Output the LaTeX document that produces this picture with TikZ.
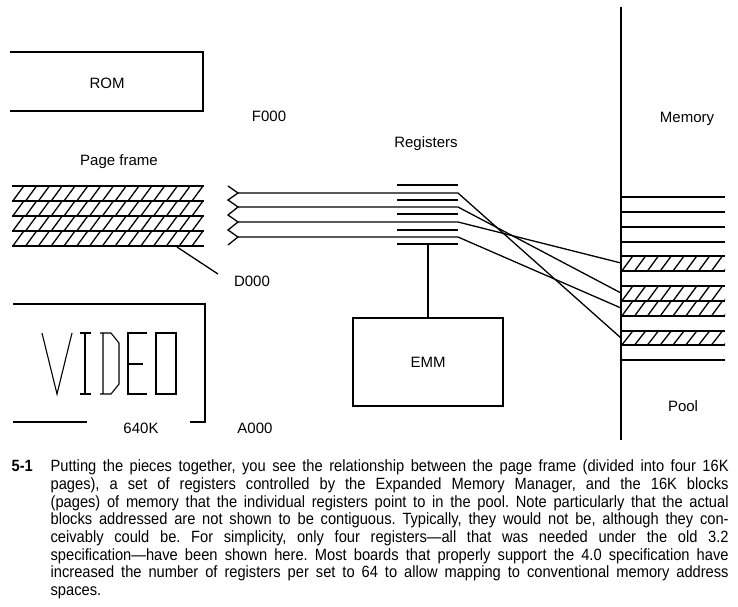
\documentclass[tikz,border=0pt]{standalone}
\usepackage{fontspec}
\setmainfont{Liberation Sans}
\newfontfamily\capfont[FakeStretch=0.9]{Liberation Sans}
\frenchspacing
\newcommand\hatchband[4]{%
  \begin{scope}
    \clip (#1,#3) rectangle (#2,#4);
    \foreach \k in {0,...,18} \draw[hatch] ({#1-12+12.8*\k},#4) -- ({#1-1+12.8*\k},#3);
  \end{scope}}
\newcommand\capline[1]{\makebox[678pt][s]{#1}}
\begin{document}
\begin{tikzpicture}[x=1pt,y=-1pt,line width=1.3pt,
  lbl/.style={font=\fontsize{15}{18}\selectfont,inner sep=0pt},
  hatch/.style={line width=1.3pt},
  vid/.style={line width=1.1pt},
  capl/.style={anchor=base west,inner sep=0pt,font=\capfont\fontsize{16.3}{17.7}\selectfont}]
\useasboundingbox[fill=white] (0,0) rectangle (738,606);

% ROM
\draw (10,52) -- (203,52) -- (203,111) -- (10,111);
\node[lbl] (rom) at (107,83) {ROM};
\node[lbl] (f000) at (269,116) {F000};
\node[lbl] (pf) at (119,162) {Page frame};

% page frame
\foreach \a/\b in {186/201,201/216,216/231,231/246} \hatchband{12}{204}{\a}{\b};
\foreach \y in {186,201,216,231,246} \draw (12,\y) -- (204,\y);
\coordinate (dtail) at (177,247);
\node[lbl] (d000) at (252,281) {D000};
\coordinate (dhead) at (218,274);
\draw (dtail) -- (dhead);

% VIDEO box
\draw (13,304) -- (205,304) -- (205,422) -- (190,422);
\draw (13,422) -- (87,422);
\draw[vid] (42,333) -- (57,394) -- (72,333);
\draw[vid] (80,333) -- (91,333) (85,333) -- (85,394) (80,394) -- (91,394);
\draw[vid] (100,333) -- (111,333) -- (119,343) -- (119,384) -- (111,394) -- (100,394) (103,333) -- (103,394);
\draw[vid] (147,333) -- (128,333) -- (128,394) -- (147,394) (128,364) -- (143,364);
\draw[vid] (156,333) rectangle (176,394);
\node[lbl] (k640) at (141,428) {640K};
\node[lbl] (a000) at (255,428) {A000};

% zigzag
\draw (228,186) -- (238,193) -- (228,200) -- (238,207) -- (228,215) -- (238,222) -- (228,230) -- (238,237) -- (228,245);

% registers
\node[lbl] (regs) at (426,144) {Registers};
\foreach \y in {185,200,214,230,244} \draw (397,\y) -- (458,\y);

% memory
\coordinate (memtop) at (621,7);
\coordinate (membot) at (621,440);
\draw (memtop) -- (membot);
\node[lbl] (mem) at (687,119) {Memory};
\node[lbl] (pool) at (683,406) {Pool};
\foreach \a/\b in {256/271,286/301,301/316,331/345} \hatchband{621}{725}{\a}{\b};
\foreach \y in {197,212,227,242,256,271,286,301,316,331,345,360} \draw (621,\y) -- (725,\y);

% connectors
\foreach \i/\y/\t in {1/193/338,2/207/293,3/222/263,4/237/308}{
  \coordinate (z\i) at (238,\y);
  \coordinate (r\i) at (458,\y);
  \coordinate (m\i) at (621,\t);
  \draw (z\i) -- (r\i) -- (m\i);
}

% EMM
\node[draw,minimum width=150,minimum height=88,lbl,inner sep=0pt] (emm) at (428,362) {EMM};
\coordinate (regbot) at (428,244);
\draw (regbot) -- (emm.north);

% caption
\node[capl,font=\bfseries\capfont\fontsize{16.3}{17.7}\selectfont] (num) at (11,471.7) {5-1};
\node[capl] (c1) at (50,471.7) {\capline{Putting the pieces together, you see the relationship between the page frame (divided into four 16K}};
\node[capl] (c2) at (50,489.4) {\capline{pages), a set of registers controlled by the Expanded Memory Manager, and the 16K blocks}};
\node[capl] (c3) at (50,507.1) {\capline{(pages) of memory that the individual registers point to in the pool. Note particularly that the actual}};
\node[capl] (c4) at (50,524.8) {\capline{blocks addressed are not shown to be contiguous. Typically, they would not be, although they con-}};
\node[capl] (c5) at (50,542.5) {\capline{ceivably could be. For simplicity, only four registers—all that was needed under the old 3.2}};
\node[capl] (c6) at (50,560.2) {\capline{specification—have been shown here. Most boards that properly support the 4.0 specification have}};
\node[capl] (c7) at (50,577.9) {\capline{increased the number of registers per set to 64 to allow mapping to conventional memory address}};
\node[capl] (c8) at (50,595.6) {spaces.};
\end{tikzpicture}
\end{document}
